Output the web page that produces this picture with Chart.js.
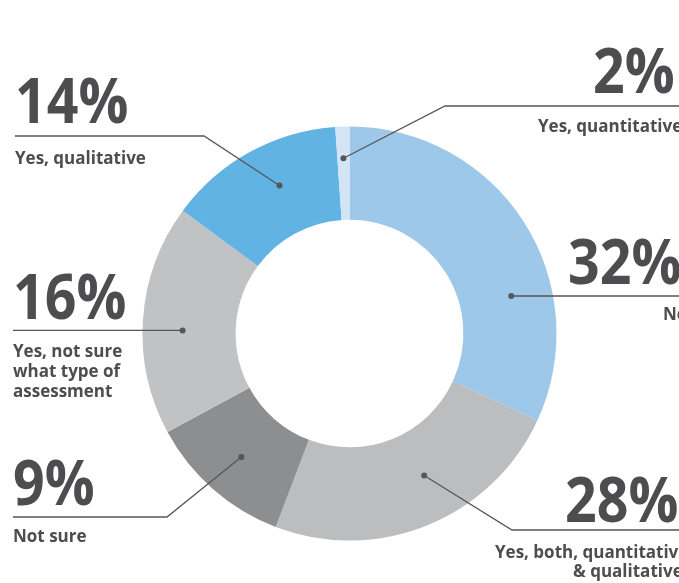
<!DOCTYPE html>
<html>
<head>
<meta charset="utf-8">
<script src="https://cdn.jsdelivr.net/npm/chart.js@4.4.1/dist/chart.umd.min.js"></script>
<style>
  html, body { margin: 0; padding: 0; background: #ffffff; }
  #wrap { width: 679px; height: 583px; position: relative; }
</style>
</head>
<body>
<div id="wrap"><canvas id="c" width="679" height="583"></canvas></div>
<script>
// ---- data ----
const categories = [
  'No',
  'Yes, both, quantitative & qualitative',
  'Not sure',
  'Yes, not sure what type of assessment',
  'Yes, qualitative',
  'Yes, quantitative'
];
// share of the ring each slice occupies, as drawn in the picture
const arcShares = [31.9, 23.9, 11.3, 18.0, 13.8, 1.1];
// printed percentage labels
const percentLabels = ['32%', '28%', '9%', '16%', '14%', '2%'];
const labelLines = [
  ['No'],
  ['Yes, both, quantitative', '& qualitative'],
  ['Not sure'],
  ['Yes, not sure', 'what type of', 'assessment'],
  ['Yes, qualitative'],
  ['Yes, quantitative']
];
const sliceColors = ['#9dc8ea', '#bcbdbf', '#8d8e90', '#c1c2c4', '#60b3e3', '#d3e4f5'];

// ---- callout layout (annotation placement, not data) ----
const callouts = [
  { f: 0.67, g: 0.56, elbow: null,       endX: 690, numX: 568, numY: 284, textX: [663],      textY: [320] },
  { f: 0.435, g: 0.50, elbow: [512, 530], endX: 690, numX: 565, numY: 522, textX: [495, 573], textY: [558, 577] },
  { f: 0.50, g: 0.54, elbow: [167, 517], endX: 13,  numX: 13,  numY: 505, textX: [13],       textY: [542] },
  { f: 0.455, g: 0.57, elbow: null,       endX: 13,  numX: 13,  numY: 319, textX: [13, 13, 13], textY: [357, 377, 397] },
  { f: 0.57, g: 0.535, elbow: [204, 136], endX: 15,  numX: 15,  numY: 123, textX: [15],       textY: [164] },
  { f: 0.50, g: 0.66, elbow: [445, 106], endX: 690, numX: 593, numY: 93,  textX: [538],      textY: [132] }
];

const TEXT_COLOR = '#4d4d4f';
const LINE_COLOR = '#555659';

const calloutPlugin = {
  id: 'callouts',
  afterDatasetsDraw(chart) {
    const ctx = chart.ctx;
    const meta = chart.getDatasetMeta(0);
    meta.data.forEach((arc, i) => {
      const c = callouts[i];
      const p = arc.getProps(['x', 'y', 'startAngle', 'endAngle', 'innerRadius', 'outerRadius'], true);
      const a = p.startAngle + c.f * (p.endAngle - p.startAngle);
      const r = p.innerRadius + c.g * (p.outerRadius - p.innerRadius);
      const dx = p.x + r * Math.cos(a);
      const dy = p.y + r * Math.sin(a);

      ctx.save();
      ctx.strokeStyle = LINE_COLOR;
      ctx.lineWidth = 1.3;
      ctx.beginPath();
      ctx.moveTo(dx, dy);
      if (c.elbow) {
        ctx.lineTo(c.elbow[0], c.elbow[1]);
        ctx.lineTo(c.endX, c.elbow[1]);
      } else {
        ctx.lineTo(c.endX, dy);
      }
      ctx.stroke();
      ctx.fillStyle = LINE_COLOR;
      ctx.beginPath();
      ctx.arc(dx, dy, 3, 0, Math.PI * 2);
      ctx.fill();
      ctx.restore();

      // big percentage
      ctx.save();
      ctx.fillStyle = TEXT_COLOR;
      ctx.textAlign = 'left';
      ctx.textBaseline = 'alphabetic';
      ctx.translate(c.numX, c.numY);
      ctx.scale(0.88, 1);
      ctx.font = '700 63px "Open Sans"';
      ctx.fillText(percentLabels[i], 0, 0);
      ctx.restore();

      // category text
      ctx.save();
      ctx.fillStyle = TEXT_COLOR;
      ctx.textAlign = 'left';
      ctx.textBaseline = 'alphabetic';
      ctx.font = '700 17px "Open Sans"';
      labelLines[i].forEach((t, k) => {
        ctx.fillText(t, c.textX[k], c.textY[k]);
      });
      ctx.restore();
    });
  }
};

new Chart(document.getElementById('c'), {
  type: 'doughnut',
  data: {
    labels: categories,
    datasets: [{
      data: arcShares,
      backgroundColor: sliceColors,
      borderWidth: 0,
      hoverOffset: 0
    }]
  },
  options: {
    responsive: false,
    animation: false,
    cutout: '55%',
    rotation: 0,
    layout: { padding: { left: 142.5, right: 122.5, top: 126.5, bottom: 42.5 } },
    plugins: {
      legend: { display: false },
      tooltip: { enabled: false },
      title: { display: false }
    },
    events: []
  },
  plugins: [calloutPlugin]
});
</script>
</body>
</html>
